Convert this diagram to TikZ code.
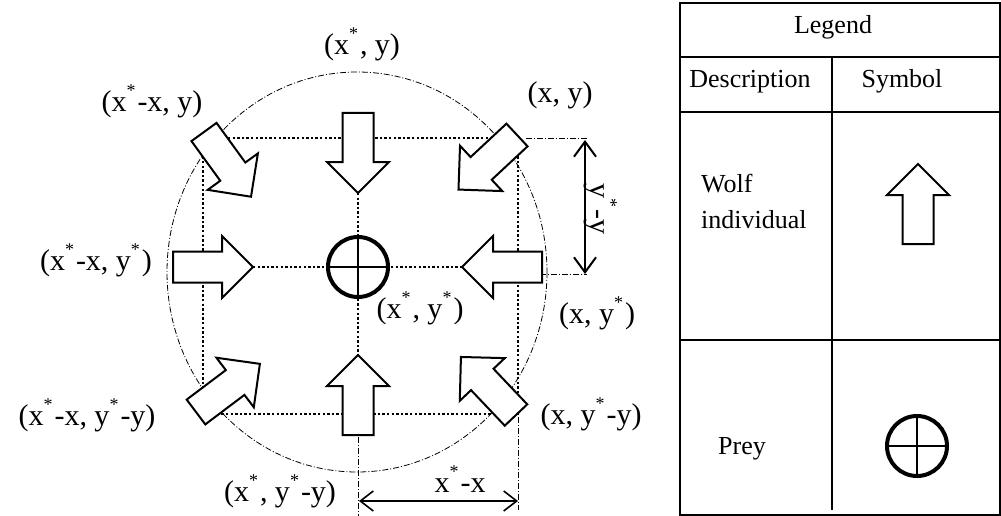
\documentclass[tikz,border=0pt]{standalone}
\usepackage{fontspec}
\setmainfont{Liberation Serif}
\usetikzlibrary{arrows.meta}
\pgfdeclarelayer{background}
\pgfsetlayers{background,main}
\newcommand\stx{\raisebox{15pt}{\fontsize{18}{18}\selectfont *}\kern2pt}
\tikzset{
  dotline/.style={line width=2.6pt, dash pattern=on 2.4pt off 2.2pt},
  dashdot/.style={line width=0.8pt, dash pattern=on 6pt off 2pt on 1pt off 2pt},
  wolfline/.style={line width=2pt, fill=white, line join=miter},
  preyc/.style={circle, draw, line width=4pt, fill=white, minimum size=60pt, inner sep=0pt},
  crossline/.style={line width=1.2pt},
  lbl/.style={font=\fontsize{30}{36}\selectfont, inner sep=0pt, anchor=base},
  leg/.style={font=\fontsize{26}{36}\selectfont, inner sep=0pt},
  dimv/.style={line width=2pt, {Straight Barb[length=15pt,width=22pt]}-{Straight Barb[length=15pt,width=22pt]}},
  dimh/.style={line width=1.6pt, {Straight Barb[length=13pt,width=20pt]}-{Straight Barb[length=13pt,width=20pt]}},
  tabline/.style={line width=1.4pt},
  pics/wolf/.style={code={
    \draw[wolfline] (0,-15.5) -- (49,-15.5) -- (49,-31) -- (80,0) -- (49,31) -- (49,15.5) -- (0,15.5) -- cycle;
    \coordinate (-tip) at (80,0);
  }}
}
\begin{document}
\begin{tikzpicture}[x=1pt,y=-1pt]
\useasboundingbox (0,0) rectangle (1001,516);

% prey
\node[preyc] (prey) at (358,267) {};
\draw[crossline] (prey.north) -- (prey.south);
\draw[crossline] (prey.west) -- (prey.east);

% wolves
\pic[rotate=-90] (wt) at (358,113) {wolf};
\pic[rotate=90] (wb) at (358,435) {wolf};
\pic[rotate=0] (wl) at (173,267) {wolf};
\pic[rotate=180] (wr) at (542,267) {wolf};
\pic[rotate=-54] (wtl) at (204,132) {wolf};
\pic[rotate=-137] (wtr) at (517,135) {wolf};
\pic[rotate=37] (wbl) at (196,412) {wolf};
\pic[rotate=133.5] (wbr) at (516,415) {wolf};

% square corners and extension points
\coordinate (TL) at (203,138);
\coordinate (BR) at (518,414);
\coordinate (e1a) at (526,138);
\coordinate (e1b) at (587,138);
\coordinate (e2a) at (540,274);
\coordinate (e2b) at (587,274);
\coordinate (e3a) at (358,437);
\coordinate (e3b) at (358,516);
\coordinate (e4a) at (518,417);
\coordinate (e4b) at (518,510);
\coordinate (vA) at (585,140);
\coordinate (vB) at (585,274);
\coordinate (hA) at (359,501);
\coordinate (hB) at (518,501);

\begin{pgfonlayer}{background}
  \draw[dashdot] (357,272) ellipse [x radius=190, y radius=200];
  \draw[dotline] (TL) rectangle (BR);
  \draw[dotline] (wl-tip) -- (wr-tip);
  \draw[dotline] (wt-tip) -- (wb-tip);
  \draw[dashdot] (e1a) -- (e1b);
  \draw[dashdot] (e2a) -- (e2b);
  \draw[dashdot] (e3a) -- (e3b);
  \draw[dashdot] (e4a) -- (e4b);
\end{pgfonlayer}

% dimension arrows
\draw[dimv] (vA) -- (vB);
\draw[dimh] (hA) -- (hB);
\node[lbl, rotate=-90] (ly) at (590,209) {y\stx-y};
\node[lbl] (lx) at (460,492) {x\stx-x};

% labels
\node[lbl] (l1) at (362,55) {(x\stx, y)};
\node[lbl] (l2) at (152,112) {(x\stx-x, y)};
\node[lbl] (l3) at (560,103) {(x, y)};
\node[lbl] (l4) at (96,270) {(x\stx-x, y\stx)};
\node[lbl] (l5) at (420,318) {(x\stx, y\stx)};
\node[lbl] (l6) at (597,323) {(x, y\stx)};
\node[lbl] (l7) at (87,425) {(x\stx-x, y\stx-y)};
\node[lbl] (l8) at (591,424) {(x, y\stx-y)};
\node[lbl] (l9) at (280,501) {(x\stx, y\stx-y)};

% legend table
\coordinate (gTL) at (680,3);
\coordinate (gBR) at (1000,515);
\draw[tabline] (gTL) rectangle (gBR);
\coordinate (r1a) at (680,57);  \coordinate (r1b) at (1000,57);
\coordinate (r2a) at (680,112); \coordinate (r2b) at (1000,112);
\coordinate (r3a) at (680,340); \coordinate (r3b) at (1000,340);
\coordinate (c1a) at (832,57);  \coordinate (c1b) at (832,510);
\draw[tabline] (r1a) -- (r1b);
\draw[tabline] (r2a) -- (r2b);
\draw[tabline] (r3a) -- (r3b);
\draw[tabline] (c1a) -- (c1b);
\node[leg, anchor=base] (gLeg) at (833,34) {Legend};
\node[leg, anchor=base] (gDesc) at (750,88) {Description};
\node[leg, anchor=base] (gSym) at (902,88) {Symbol};
\node[leg, anchor=north west, align=left] (gWolf) at (701,174) {Wolf\\individual};
\node[leg, anchor=base] (gPrey) at (742,454) {Prey};
\pic[rotate=90] (lw) at (918,244) {wolf};
\node[preyc] (lprey) at (917,446) {};
\draw[crossline] (lprey.north) -- (lprey.south);
\draw[crossline] (lprey.west) -- (lprey.east);
\end{tikzpicture}
\end{document}
